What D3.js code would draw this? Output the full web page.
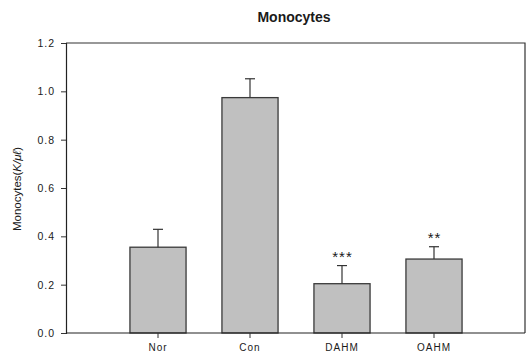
<!DOCTYPE html>
<html>
<head>
<meta charset="utf-8">
<script src="https://cdn.jsdelivr.net/npm/d3@7"></script>
<style>
  html, body { margin: 0; padding: 0; background: #fff; }
  svg { display: block; }
  text { font-family: "Liberation Sans", Arial, sans-serif; fill: #1a1a1a; }
</style>
</head>
<body>
<svg id="chart" width="527" height="357"></svg>
<script>
// Monocyte counts per group (mean and error)
const groups = ["Nor", "Con", "DAHM", "OAHM"];
const means = [0.355, 0.974, 0.204, 0.306];
const errors = [0.074, 0.078, 0.075, 0.051];
const marks = ["", "", "***", "**"];
const yTicks = [0.0, 0.2, 0.4, 0.6, 0.8, 1.0, 1.2];

const svg = d3.select("#chart");
const plotLeft = 66, plotRight = 525, plotTop = 43, plotBottom = 333;

const x = d3.scaleBand()
  .domain(groups)
  .range([112, 480])
  .paddingInner(0.39)
  .paddingOuter(0.195);

const y = d3.scaleLinear().domain([0, 1.2]).range([plotBottom, plotTop]);

// frame (top and right edges)
svg.append("path")
  .attr("d", `M${plotLeft},${plotTop}H${plotRight}V${plotBottom}`)
  .attr("fill", "none")
  .attr("stroke", "#333")
  .attr("stroke-width", 1.2);

// bars
svg.append("g").selectAll("rect")
  .data(groups)
  .join("rect")
  .attr("x", d => x(d))
  .attr("width", x.bandwidth())
  .attr("y", (d, i) => y(means[i]))
  .attr("height", (d, i) => y(0) - y(means[i]))
  .attr("fill", "#c0c0c0")
  .attr("stroke", "#3a3a3a")
  .attr("stroke-width", 1.3);

// error bars (upper half only)
const eb = svg.append("g").attr("stroke", "#333").attr("stroke-width", 1.2);
groups.forEach((g, i) => {
  const cx = x(g) + x.bandwidth() / 2;
  eb.append("line")
    .attr("x1", cx).attr("x2", cx)
    .attr("y1", y(means[i])).attr("y2", y(means[i] + errors[i]));
  eb.append("line")
    .attr("x1", cx - 5).attr("x2", cx + 5)
    .attr("y1", y(means[i] + errors[i])).attr("y2", y(means[i] + errors[i]));
});

// significance marks
svg.append("g").selectAll("text")
  .data(groups)
  .join("text")
  .attr("x", d => x(d) + x.bandwidth() / 2 + 0.5)
  .attr("y", (d, i) => y(means[i] + errors[i]) - 3.5)
  .attr("text-anchor", "middle")
  .attr("font-family", "DejaVu Sans, sans-serif")
  .attr("font-size", 15)
  .attr("letter-spacing", "1px")
  .attr("fill", "#444")
  .text((d, i) => marks[i]);

// y axis
const yAxis = svg.append("g")
  .attr("transform", `translate(${plotLeft},0)`)
  .call(d3.axisLeft(y).tickValues(yTicks).tickFormat(d3.format(".1f")).tickSize(5).tickPadding(6));
yAxis.select(".domain").attr("stroke", "#222").attr("stroke-width", 1.2);
yAxis.selectAll(".tick line").attr("stroke", "#333");
yAxis.selectAll(".tick text")
  .attr("font-size", 10.5)
  .attr("letter-spacing", "1px")
  .attr("font-family", "Liberation Sans, Arial, sans-serif")
  .attr("fill", "#222");

// x axis
const xAxis = svg.append("g")
  .attr("transform", `translate(0,${plotBottom})`)
  .call(d3.axisBottom(x).tickSize(5).tickPadding(6).tickSizeOuter(0));
xAxis.select(".domain")
  .attr("d", `M${plotLeft},0H${plotRight}`)
  .attr("stroke", "#222").attr("stroke-width", 1.2);
xAxis.selectAll(".tick line").attr("stroke", "#333");
xAxis.selectAll(".tick text")
  .attr("font-size", 10)
  .attr("letter-spacing", "1px")
  .attr("font-family", "Liberation Sans, Arial, sans-serif")
  .attr("fill", "#222");

// title
svg.append("text")
  .attr("x", 294).attr("y", 22)
  .attr("text-anchor", "middle")
  .attr("font-size", 14)
  .attr("font-weight", "bold")
  .text("Monocytes");

// y label
const yl = svg.append("text")
  .attr("transform", `translate(21,189) rotate(-90)`)
  .attr("text-anchor", "middle")
  .attr("font-size", 11.5)
  .attr("fill", "#333");
yl.append("tspan").text("Monocytes(");
yl.append("tspan").attr("font-style", "italic").text("K/\u03bc\u2113");
yl.append("tspan").text(")");
</script>
</body>
</html>
